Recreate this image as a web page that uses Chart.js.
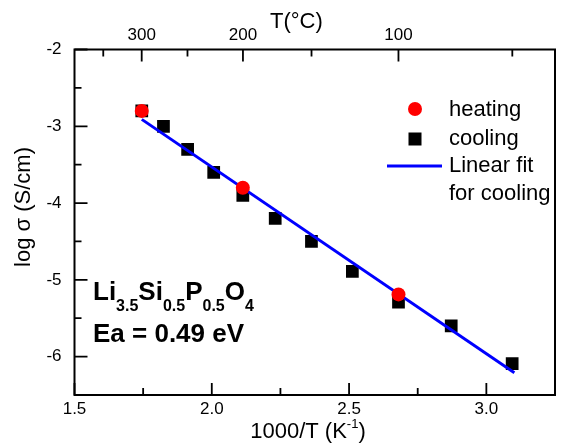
<!DOCTYPE html>
<html>
<head>
<meta charset="utf-8">
<script src="https://cdn.jsdelivr.net/npm/chart.js@4.4.0/dist/chart.umd.min.js"></script>
<style>
  body { margin: 0; background: #fff; }
  #wrap { width: 564px; height: 444px; }
</style>
</head>
<body>
<div id="wrap"><canvas id="grafico" width="564" height="444"></canvas></div>
<script>
// dados
var coolingX = [1.745, 1.824, 1.912, 2.007, 2.113, 2.231, 2.363, 2.512, 2.680, 2.872, 3.094];
var coolingY = [-2.80, -3.00, -3.30, -3.60, -3.90, -4.20, -4.50, -4.89, -5.29, -5.60, -6.09];
var heatingX = [1.745, 2.113, 2.680];
var heatingY = [-2.80, -3.80, -5.19];
var fitX = [1.745, 3.102];
var fitY = [-2.91, -6.21];

// eixos
var xTicks = [1.5, 2.0, 2.5, 3.0];
var xMinor = [1.75, 2.25, 2.75];
var yTicks = [-6, -5, -4, -3, -2];
var yMinor = [-5.5, -4.5, -3.5, -2.5];
var topTicksC = [300, 200, 100];
var topMinorC = [350, 250, 150, 50];

var FONT = "'Liberation Sans', Arial, sans-serif";

function toInvT(c) { return 1000 / (c + 273.15); }

function pts(xs, ys) {
    return xs.map(function (x, i) { return { x: x, y: ys[i] }; });
}

// moldura, ticks internos, titulos, legenda e anotacao
var extras = {
    id: 'extras',
    afterDraw: function (chart) {
        var ctx = chart.ctx;
        var a = chart.chartArea;
        var sx = chart.scales.x, sy = chart.scales.y;
        ctx.save();
        ctx.strokeStyle = '#000';
        ctx.lineWidth = 2;
        ctx.strokeRect(a.left, a.top, a.right - a.left, a.bottom - a.top);

        ctx.lineWidth = 1.8;
        ctx.beginPath();
        xTicks.forEach(function (v) {
            var p = sx.getPixelForValue(v);
            ctx.moveTo(p, a.bottom); ctx.lineTo(p, a.bottom - 12);
        });
        xMinor.forEach(function (v) {
            var p = sx.getPixelForValue(v);
            ctx.moveTo(p, a.bottom); ctx.lineTo(p, a.bottom - 7);
        });
        topTicksC.forEach(function (c) {
            var p = sx.getPixelForValue(toInvT(c));
            ctx.moveTo(p, a.top); ctx.lineTo(p, a.top + 12);
        });
        topMinorC.forEach(function (c) {
            var p = sx.getPixelForValue(toInvT(c));
            ctx.moveTo(p, a.top); ctx.lineTo(p, a.top + 7);
        });
        yTicks.forEach(function (v) {
            var p = sy.getPixelForValue(v);
            ctx.moveTo(a.left, p); ctx.lineTo(a.left + 13, p);
        });
        yMinor.forEach(function (v) {
            var p = sy.getPixelForValue(v);
            ctx.moveTo(a.left, p); ctx.lineTo(a.left + 7, p);
        });
        ctx.stroke();

        // titulos dos eixos
        ctx.fillStyle = '#000';
        ctx.textBaseline = 'middle';
        ctx.font = '22px ' + FONT;
        ctx.textAlign = 'left';
        ctx.fillText('T(°C)', 270, 22);

        var t1 = '1000/T (K', t2 = ')';
        ctx.font = '22px ' + FONT;
        var w1 = ctx.measureText(t1).width, w3 = ctx.measureText(t2).width;
        ctx.font = '13px ' + FONT;
        var w2 = ctx.measureText('-1').width;
        var x0 = 308 - (w1 + w2 + w3) / 2;
        ctx.font = '22px ' + FONT;
        ctx.fillText(t1, x0, 432);
        ctx.font = '13px ' + FONT;
        ctx.fillText('-1', x0 + w1, 424);
        ctx.font = '22px ' + FONT;
        ctx.fillText(t2, x0 + w1 + w2, 432);

        ctx.save();
        ctx.translate(24, 207);
        ctx.rotate(-Math.PI / 2);
        ctx.textAlign = 'center';
        ctx.fillText('log σ (S/cm)', 0, 0);
        ctx.restore();

        // legenda
        ctx.fillStyle = '#ff0000';
        ctx.beginPath();
        ctx.arc(415, 109, 7, 0, Math.PI * 2);
        ctx.fill();
        ctx.fillStyle = '#000';
        ctx.fillRect(408.5, 132.5, 13, 13);
        ctx.strokeStyle = '#0000ff';
        ctx.lineWidth = 3;
        ctx.beginPath();
        ctx.moveTo(387, 166); ctx.lineTo(442, 166);
        ctx.stroke();
        ctx.fillStyle = '#000';
        ctx.textAlign = 'left';
        ctx.font = '22px ' + FONT;
        ctx.fillText('heating', 449, 110);
        ctx.fillText('cooling', 449, 139);
        ctx.fillText('Linear fit', 449, 166);
        ctx.fillText('for cooling', 449, 194);

        // formula e energia de ativacao
        ctx.textBaseline = 'alphabetic';
        var parts = [['Li', 0], ['3.5', 1], ['Si', 0], ['0.5', 1], ['P', 0], ['0.5', 1], ['O', 0], ['4', 1]];
        var cx = 93;
        parts.forEach(function (p) {
            ctx.font = p[1] ? 'bold 16px ' + FONT : 'bold 26px ' + FONT;
            ctx.fillText(p[0], cx, p[1] ? 311 : 300);
            cx += ctx.measureText(p[0]).width;
        });
        ctx.font = 'bold 26px ' + FONT;
        ctx.fillText('Ea = 0.49 eV', 93, 342);
        ctx.restore();
    }
};

var ctx = document.getElementById('grafico');
var chartGraph = new Chart(ctx, {
    type: 'scatter',
    data: {
        datasets: [{
            label: 'heating',
            data: pts(heatingX, heatingY),
            pointStyle: 'circle',
            pointRadius: 7,
            pointBorderWidth: 0,
            backgroundColor: '#ff0000',
            borderColor: '#ff0000',
            order: 1
        }, {
            label: 'Linear fit for cooling',
            data: pts(fitX, fitY),
            showLine: true,
            pointRadius: 0,
            borderColor: '#0000ff',
            borderWidth: 3,
            order: 2
        }, {
            label: 'cooling',
            data: pts(coolingX, coolingY),
            pointStyle: 'rect',
            pointRadius: 9,
            pointBorderWidth: 0,
            backgroundColor: '#000',
            borderColor: '#000',
            order: 3
        }]
    },
    options: {
        responsive: false,
        animation: false,
        layout: { padding: { left: 0, right: 2, top: 0, bottom: 0 } },
        plugins: {
            legend: { display: false },
            tooltip: { enabled: false }
        },
        scales: {
            x: {
                type: 'linear',
                position: 'bottom',
                min: 1.5,
                max: 3.25,
                grid: { display: false, drawTicks: false },
                border: { display: false },
                afterBuildTicks: function (s) {
                    s.ticks = xTicks.map(function (v) { return { value: v }; });
                },
                afterFit: function (s) { s.height = 49; },
                ticks: {
                    color: '#000',
                    padding: 4,
                    maxRotation: 0,
                    font: { size: 17, family: FONT },
                    callback: function (v) { return Number(v).toFixed(1); }
                }
            },
            x2: {
                type: 'linear',
                position: 'top',
                min: 1.5,
                max: 3.25,
                grid: { display: false, drawTicks: false },
                border: { display: false },
                afterBuildTicks: function (s) {
                    s.ticks = topTicksC.map(function (c) { return { value: toInvT(c) }; });
                },
                afterFit: function (s) { s.height = 49.5; },
                ticks: {
                    color: '#000',
                    padding: 4,
                    maxRotation: 0,
                    font: { size: 17, family: FONT },
                    callback: function (v, i) { return String(topTicksC[i]); }
                }
            },
            y: {
                type: 'linear',
                min: -6.5,
                max: -2,
                grid: { display: false, drawTicks: false },
                border: { display: false },
                afterBuildTicks: function (s) {
                    s.ticks = yTicks.map(function (v) { return { value: v }; });
                },
                afterFit: function (s) { s.width = 74.5; },
                ticks: {
                    color: '#000',
                    padding: 13,
                    font: { size: 17, family: FONT },
                    callback: function (v) { return String(v); }
                }
            }
        }
    },
    plugins: [extras]
});
</script>
</body>
</html>
